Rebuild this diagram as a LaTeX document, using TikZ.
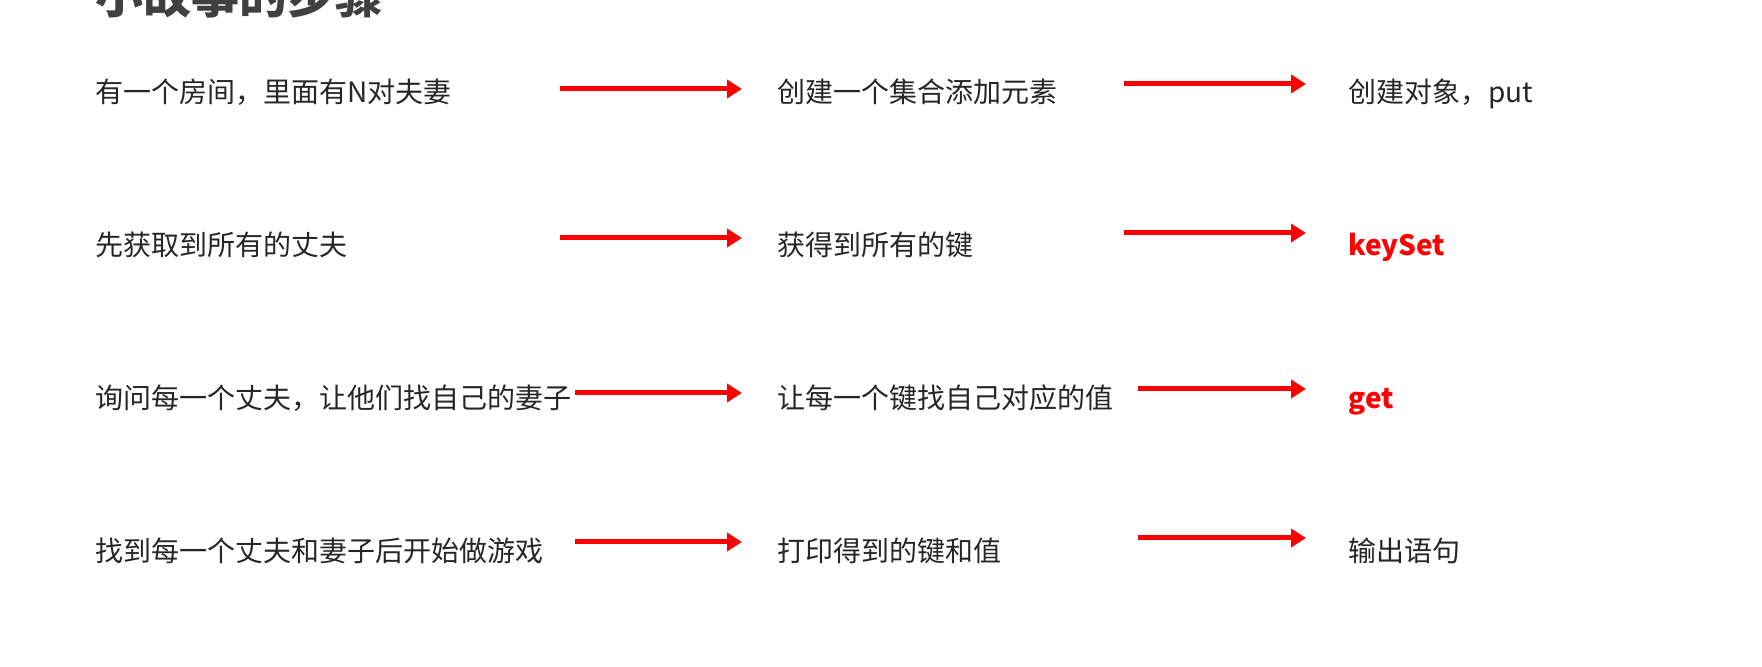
\documentclass[tikz,border=0pt]{standalone}
\usepackage{fontspec}
\setmainfont{Noto Sans CJK SC}
\usepackage{xcolor}
\usepackage{tikz}
\usetikzlibrary{arrows.meta}
\definecolor{textGray}{HTML}{262626}
\definecolor{titleGray}{HTML}{404040}

\begin{document}
\begin{tikzpicture}[
  x=0.5pt, y=-0.5pt,
  every node/.style={anchor=west, inner sep=0pt, font=\fontsize{14pt}{16pt}\selectfont, text=textGray, text height=0.8em, text depth=0.2em},
  keyword/.style={text=red, font=\fontsize{14pt}{16pt}\selectfont\bfseries},
  arrow/.style={-{Triangle[length=7.5pt, width=9pt]}, line width=2.5pt, red}
]
\useasboundingbox (0,0) rectangle (1762,667);
\clip (0,0) rectangle (1762,667);
\node (title) [anchor=base west, text=titleGray, font=\fontsize{24pt}{28pt}\selectfont\bfseries] at (95,14) {小故事的步骤};
% left column
\node (room) at (95,97) {有一个房间，里面有N对夫妻};
\node (husbands) at (95,250) {先获取到所有的丈夫};
\node (askWife) at (95,403) {询问每一个丈夫，让他们找自己的妻子};
\node (playGame) at (95,556) {找到每一个丈夫和妻子后开始做游戏};
% middle column
\node (makeSet) at (777,97) {创建一个集合添加元素};
\node (allKeys) at (777,250) {获得到所有的键};
\node (keyValue) at (777,403) {让每一个键找自己对应的值};
\node (printPair) at (777,556) {打印得到的键和值};
% right column
\node (putObj) at (1348,97) {创建对象，put};
\node (keySet) [keyword] at (1348,250) {keySet};
\node (getVal) [keyword] at (1348,403) {get};
\node (output) at (1348,556) {输出语句};
% arrow ends
\coordinate (roomFrom) at (560,89);   \coordinate (roomTo) at (742,89);
\coordinate (setFrom) at (1124,84);   \coordinate (setTo) at (1306,84);
\coordinate (husbFrom) at (560,238);  \coordinate (husbTo) at (742,238);
\coordinate (keysFrom) at (1124,233); \coordinate (keysTo) at (1306,233);
\coordinate (askFrom) at (575,393);   \coordinate (askTo) at (742,393);
\coordinate (valFrom) at (1138,389);  \coordinate (valTo) at (1306,389);
\coordinate (gameFrom) at (575,542);  \coordinate (gameTo) at (742,542);
\coordinate (printFrom) at (1138,538); \coordinate (printTo) at (1306,538);
\draw[arrow] (roomFrom) -- (roomTo);
\draw[arrow] (setFrom) -- (setTo);
\draw[arrow] (husbFrom) -- (husbTo);
\draw[arrow] (keysFrom) -- (keysTo);
\draw[arrow] (askFrom) -- (askTo);
\draw[arrow] (valFrom) -- (valTo);
\draw[arrow] (gameFrom) -- (gameTo);
\draw[arrow] (printFrom) -- (printTo);
\end{tikzpicture}
\end{document}
